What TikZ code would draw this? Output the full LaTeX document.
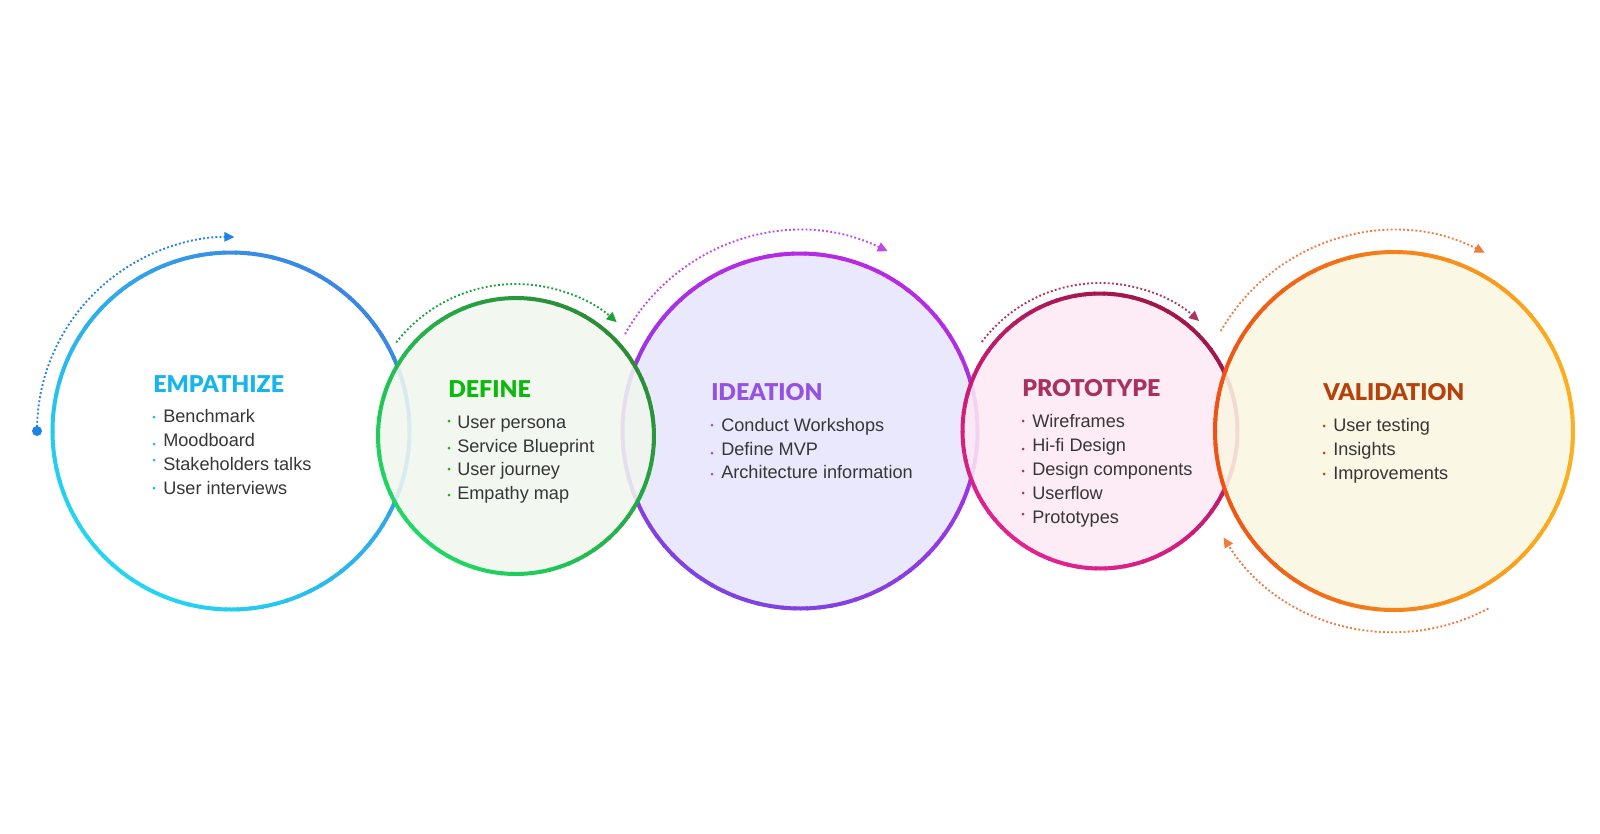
\documentclass[tikz,border=0pt]{standalone}
\usepackage{fontspec}
\setmainfont{Liberation Sans}
\newfontfamily\titlefont{Lato Black}
\usetikzlibrary{arrows.meta}
\definecolor{txt}{HTML}{363636}
% ring colours
\definecolor{eA}{HTML}{3A86E4}\definecolor{eB}{HTML}{22D6F3}
\definecolor{dA}{HTML}{2B8C36}\definecolor{dB}{HTML}{1ED862}
\definecolor{iA}{HTML}{B82AE4}\definecolor{iB}{HTML}{7E42E2}
\definecolor{pA}{HTML}{A0164A}\definecolor{pB}{HTML}{E2228E}
\definecolor{vA}{HTML}{FCB11F}\definecolor{vB}{HTML}{EE5214}
% fills
\definecolor{dF}{HTML}{F1F6EF}\definecolor{iF}{HTML}{E9E8FC}
\definecolor{pF}{HTML}{FDEAF4}\definecolor{vF}{HTML}{FBF6E2}
% titles
\definecolor{eT}{HTML}{16B6EA}\definecolor{dT}{HTML}{0DB80F}
\definecolor{iT}{HTML}{9552DE}\definecolor{pT}{HTML}{A8325E}
\definecolor{vT}{HTML}{B5420C}
% dotted arcs
\definecolor{eD}{HTML}{1E84E6}\definecolor{dD}{HTML}{17A23A}
\definecolor{iD}{HTML}{C247E6}\definecolor{pD}{HTML}{B0345E}
\definecolor{vD}{HTML}{F27A3C}
\newcommand\gradring[5]{%
  \foreach \a in {0,4,...,356}{%
    \pgfmathtruncatemacro\pp{50+50*cos(\a+2-#5)}%
    \draw[line width=3pt, color=#3!\pp!#4] (#1) ++(\a:#2) arc[start angle=\a, end angle=\a+4.6, radius=#2];
  }}
\tikzset{
  ttl/.style={anchor=base west, inner sep=0pt, font=\titlefont\fontsize{17.4}{17.4}\selectfont},
  itm/.style={anchor=base west, inner sep=0pt, font=\fontsize{13.6}{13.6}\selectfont, text=txt},
  dotarc/.style={line width=1.4pt, dash pattern=on 1.4pt off 1.7pt, -{Triangle[length=7.5pt,width=7pt]}},
}
\begin{document}
\begin{tikzpicture}[x=0.75pt,y=0.75pt]
\useasboundingbox[fill=white] (0,0) rectangle (1600,-833);
\coordinate (cE) at (231,-431);
\coordinate (cD) at (516,-436);
\coordinate (cI) at (800,-431);
\coordinate (cP) at (1100,-431);
\coordinate (cV) at (1394,-431);
% Empathize
\fill[white] (cE) circle[radius=178.5];
\gradring{cE}{178.5}{eA}{eB}{50}
% Ideation
\fill[iF] (cI) circle[radius=177.5];
\gradring{cI}{177.5}{iA}{iB}{70}
% Define
\fill[dF, fill opacity=0.88] (cD) circle[radius=138];
\gradring{cD}{138}{dA}{dB}{45}
% Prototype
\fill[pF, fill opacity=0.88] (cP) circle[radius=137.5];
\gradring{cP}{137.5}{pA}{pB}{60}
% Validation
\fill[vF, fill opacity=0.88] (cV) circle[radius=179];
\gradring{cV}{179}{vA}{vB}{0}
% dotted arcs
\draw[dotarc, eD] (cE) ++(180:194) arc[start angle=180, end angle=89, radius=194];
\fill[eD] (cE) ++(180:194) circle[radius=5];
\draw[dotarc, dD] (cD) ++(142:152) arc[start angle=142, end angle=48.5, radius=152];
\draw[dotarc, iD] (cI) ++(151:200) arc[start angle=151, end angle=64, radius=200];
\draw[dotarc, pD] (cP) ++(143:148) arc[start angle=143, end angle=48, radius=148];
\draw[dotarc, vD] (cV) ++(150:200) arc[start angle=150, end angle=63, radius=200];
\draw[dotarc, vD] (cV) ++(-62:201) arc[start angle=-62, end angle=-148, radius=201];
% Empathize text
\node[ttl, text=eT] (tE) at (153,-392) {EMPATHIZE};
\node[itm] (e1) at (163,-422) {Benchmark};
\node[itm] (e2) at (163,-446) {Moodboard};
\node[itm] (e3) at (163,-470) {Stakeholders talks};
\node[itm] (e4) at (163,-494) {User interviews};
\foreach \y in {417,444,460,488} \fill[eT] (154,-\y) circle[radius=1.5];
% Define text
\node[ttl, text=dT] (tD) at (448,-397) {DEFINE};
\node[itm] (d1) at (457,-428) {User persona};
\node[itm] (d2) at (457,-452) {Service Blueprint};
\node[itm] (d3) at (457,-475) {User journey};
\node[itm] (d4) at (457,-499) {Empathy map};
\foreach \y in {421,448,469,495} \fill[dT] (449,-\y) circle[radius=1.5];
% Ideation text
\node[ttl, text=iT] (tI) at (711,-400) {IDEATION};
\node[itm] (i1) at (721,-431) {Conduct Workshops};
\node[itm] (i2) at (721,-455) {Define MVP};
\node[itm] (i3) at (721,-478) {Architecture information};
\foreach \y in {425,453,474} \fill[iT] (712,-\y) circle[radius=1.5];
% Prototype text
\node[ttl, text=pT] (tP) at (1022,-396) {PROTOTYPE};
\node[itm] (p1) at (1032,-427) {Wireframes};
\node[itm] (p2) at (1032,-451) {Hi-fi Design};
\node[itm] (p3) at (1032,-475) {Design components};
\node[itm] (p4) at (1032,-499) {Userflow};
\node[itm] (p5) at (1032,-523) {Prototypes};
\foreach \y in {421,449,471,493,514} \fill[pT] (1023,-\y) circle[radius=1.5];
% Validation text
\node[ttl, text=vT] (tV) at (1323,-400) {VALIDATION};
\node[itm] (v1) at (1333,-431) {User testing};
\node[itm] (v2) at (1333,-455) {Insights};
\node[itm] (v3) at (1333,-479) {Improvements};
\foreach \y in {426,453,474} \fill[vT] (1324,-\y) circle[radius=1.5];
\end{tikzpicture}
\end{document}
